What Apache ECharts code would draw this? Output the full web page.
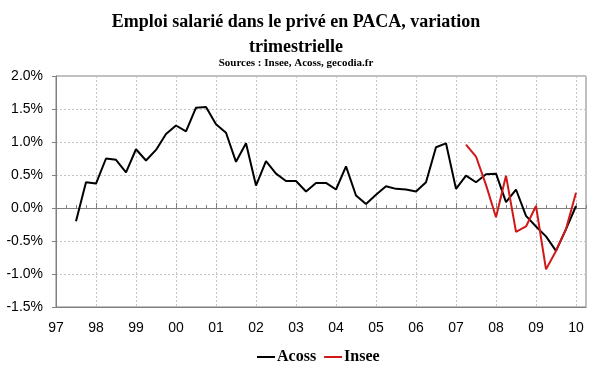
<!DOCTYPE html>
<html><head><meta charset="utf-8">
<script src="https://cdn.jsdelivr.net/npm/echarts@6/dist/echarts.min.js"></script>
<style>html,body{margin:0;padding:0;background:#fff}#c{width:600px;height:372px}</style>
</head><body><div id="c"></div>
<script>
const yearLabels = ['97','98','99','00','01','02','03','04','05','06','07','08','09','10'];
const quarterCount = 54;
const acossStart = 2;
const acossValues = [-0.20,0.39,0.37,0.75,0.73,0.54,0.89,0.72,0.88,1.12,1.25,1.16,1.52,1.53,1.27,1.14,0.70,0.98,0.34,0.71,0.52,0.41,0.41,0.25,0.38,0.38,0.28,0.63,0.19,0.06,0.20,0.33,0.29,0.28,0.25,0.39,0.92,0.98,0.29,0.49,0.39,0.51,0.52,0.09,0.28,-0.12,-0.28,-0.43,-0.65,-0.32,0.03];
const inseeStart = 41;
const inseeValues = [0.96,0.78,0.35,-0.14,0.49,-0.36,-0.28,0.03,-0.93,-0.65,-0.32,0.23];
const yTicks = {min:-1.5, max:2.0, step:0.5};

const cats = [];
yearLabels.forEach(y => { for (let q = 1; q <= 4; q++) cats.push(y + ' T' + q); });
const categories = cats.slice(0, quarterCount);
function pad(start, vals) {
  const out = new Array(categories.length).fill(null);
  vals.forEach((v, i) => { out[start + i] = v; });
  return out;
}
const grey = '#808080';
const gridCol = '#c4c4c4';
const serif = 'Liberation Serif';
const sans = 'Liberation Sans';

const chart = echarts.init(document.getElementById('c'), null, {renderer:'canvas'});
chart.setOption({
  backgroundColor:'#fff',
  animation:false,
  title:[
    {text:'Emploi salarié dans le privé en PACA, variation\ntrimestrielle', left:296, top:10, textAlign:'center', padding:0,
     textStyle:{fontFamily:serif, fontWeight:'bold', fontSize:18, lineHeight:25, color:'#000'}},
    {text:'Sources : Insee, Acoss, gecodia.fr', left:296, top:58, textAlign:'center', padding:0,
     textStyle:{fontFamily:serif, fontWeight:'bold', fontSize:11, color:'#000'}}
  ],
  legend:{data:['Acoss','Insee'], left:257, top:349, icon:'rect', itemWidth:18, itemHeight:2, itemGap:8, padding:0,
    textStyle:{fontFamily:serif, fontWeight:'bold', fontSize:16, color:'#000', padding:[0,0,0,-3]}},
  grid:{left:56, right:14, top:76, bottom:65, show:true, borderColor:grey, borderWidth:1, containLabel:false},
  xAxis:[
    {type:'category', data:categories, boundaryGap:false, position:'bottom',
     axisLine:{onZero:false, lineStyle:{color:grey}}, axisTick:{show:false},
     axisLabel:{interval:3, formatter:v => v.split(' ')[0], margin:14, fontSize:14, color:'#000', fontFamily:sans},
     splitLine:{show:true, interval:3, lineStyle:{color:gridCol, type:[2,2]}}},
    {type:'category', data:categories, boundaryGap:false, position:'top',
     axisLine:{onZero:true, onZeroAxisIndex:0, lineStyle:{color:grey}},
     axisTick:{show:true, interval:0, length:3, lineStyle:{color:grey}},
     axisLabel:{show:false}, splitLine:{show:false}},
    {type:'category', data:categories, boundaryGap:false, position:'top',
     axisLine:{onZero:true, onZeroAxisIndex:0, lineStyle:{color:grey}},
     axisTick:{show:true, interval:3, length:5, lineStyle:{color:grey}},
     axisLabel:{show:false}, splitLine:{show:false}}
  ],
  yAxis:{type:'value', min:yTicks.min, max:yTicks.max, interval:yTicks.step,
    axisLine:{show:true, onZero:false, lineStyle:{color:grey}},
    axisTick:{show:true, length:4, lineStyle:{color:grey}},
    axisLabel:{formatter:v => v.toFixed(1) + '%', fontSize:14, color:'#000', fontFamily:sans, margin:13},
    splitLine:{show:true, lineStyle:{color:gridCol, type:[2,2]}}},
  series:[
    {name:'Acoss', type:'line', data:pad(acossStart, acossValues), symbol:'none', color:'#000',
     lineStyle:{width:2, color:'#000'}, z:3},
    {name:'Insee', type:'line', data:pad(inseeStart, inseeValues), symbol:'none', color:'#d01818',
     lineStyle:{width:2, color:'#d01818'}, z:4}
  ]
});
</script></body></html>
